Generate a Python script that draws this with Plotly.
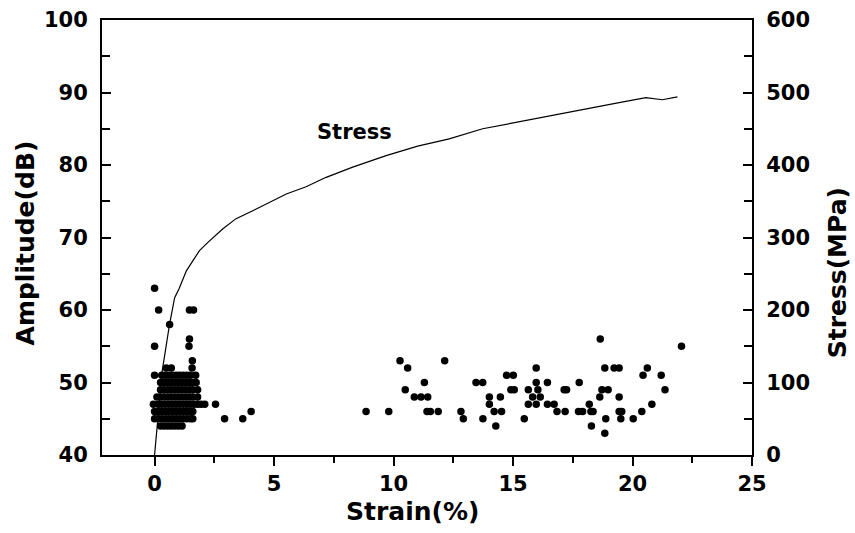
import plotly.graph_objects as go

# ---- Stress-strain curve (right axis) ----
stress_strain = [0.0, 0.07, 0.32, 0.63, 0.84, 1.02, 1.33, 1.88, 2.22, 2.86, 3.41, 4.11,
                 5.51, 6.34, 7.18, 8.29, 9.69, 11.01, 12.33, 13.73, 15.12, 16.51, 17.91,
                 19.44, 20.56, 21.25, 21.88]
stress_mpa = [0, 24, 116, 181, 217, 229, 254, 282, 293, 312, 326, 337,
              360, 370, 383, 397, 413, 426, 436, 450, 459, 467, 476,
              486, 493, 490, 494]

# ---- Acoustic emission hits (left axis) ----
ae_strain = [
    0.0,
    0.17, 1.46, 1.63,
    0.63,
    1.46,
    0.0, 1.44,
    1.58,
    0.49, 0.70, 1.57,
    0.0, 0.3, 0.45, 0.6, 0.75, 0.9, 1.05, 1.2, 1.35, 1.5, 1.72,
    0.25, 0.4, 0.55, 0.7, 0.85, 1.0, 1.15, 1.3, 1.45, 1.6, 1.74,
    0.25, 0.4, 0.55, 0.7, 0.85, 1.0, 1.15, 1.3, 1.45, 1.6, 1.8,
    0.1, 0.25, 0.4, 0.55, 0.7, 0.85, 1.0, 1.15, 1.3, 1.45, 1.6, 1.8,
    -0.05, 0.15, 0.3, 0.45, 0.6, 0.75, 0.9, 1.05, 1.2, 1.35, 1.5, 1.65, 1.8, 1.95, 2.1, 2.55,
    0.0, 0.15, 0.3, 0.45, 0.6, 0.75, 0.9, 1.05, 1.2, 1.35, 1.5, 1.6, 4.04,
    0.0, 0.15, 0.3, 0.45, 0.6, 0.75, 0.9, 1.05, 1.2, 1.35, 1.5, 1.6, 2.93, 3.69,
    0.25, 0.4, 0.55, 0.7, 0.85, 1.0, 1.15,
    # later hits
    10.27, 12.14,
    10.59, 15.97, 18.84, 19.23, 19.44, 20.62,
    14.73, 15.01, 20.44, 21.20,
    11.29, 13.45, 13.73, 15.97, 16.44, 17.77,
    10.49, 14.91, 15.05, 15.64, 16.04, 17.14, 17.24, 18.72, 18.98, 21.36,
    10.87, 11.15, 11.43, 14.01, 14.47, 15.82, 16.14, 18.63, 19.44,
    14.01, 15.64, 15.97, 16.44, 16.72, 18.19, 20.81,
    8.85, 9.80, 11.40, 11.54, 11.87, 12.82, 14.21, 14.52, 16.84, 17.18, 17.74, 17.91,
    18.26, 18.35, 19.44, 19.55, 20.39,
    12.92, 13.74, 15.47, 18.88, 19.51, 20.03,
    14.28, 18.28,
    18.84,
    18.65,
    22.05,
]
ae_amp = (
    [63]
    + [60] * 3
    + [58]
    + [56]
    + [55] * 2
    + [53]
    + [52] * 3
    + [51] * 11
    + [50] * 11
    + [49] * 11
    + [48] * 12
    + [47] * 16
    + [46] * 13
    + [45] * 14
    + [44] * 7
    + [53] * 2
    + [52] * 6
    + [51] * 4
    + [50] * 6
    + [49] * 10
    + [48] * 9
    + [47] * 7
    + [46] * 17
    + [45] * 6
    + [44] * 2
    + [43]
    + [56]
    + [55]
)

x_ticks = [0, 5, 10, 15, 20, 25]
amp_ticks = [40, 50, 60, 70, 80, 90, 100]
stress_ticks = [0, 100, 200, 300, 400, 500, 600]

FONT = "DejaVu Sans, Arial, sans-serif"
TICK_SIZE = 21
TITLE_SIZE = 25

fig = go.Figure()
fig.add_trace(go.Scatter(
    x=ae_strain, y=ae_amp, mode="markers",
    marker=dict(color="black", size=7.5, line=dict(width=0)),
    showlegend=False, yaxis="y",
))
fig.add_trace(go.Scatter(
    x=stress_strain, y=stress_mpa, mode="lines",
    line=dict(color="black", width=1.2, shape="linear"),
    showlegend=False, yaxis="y2",
))

title_font = dict(family=FONT, size=TITLE_SIZE, color="black", weight="bold")
fig.add_annotation(
    x=8.36, y=84.5, xref="x", yref="y", text="Stress", showarrow=False,
    font=dict(family=FONT, size=21, color="black", weight="bold"),
)
fig.add_annotation(
    x=0.478, y=-0.131, xref="paper", yref="paper", text="Strain(%)", showarrow=False,
    xanchor="center", yanchor="middle", font=title_font,
)
fig.add_annotation(
    x=-0.118, y=0.487, xref="paper", yref="paper", text="Amplitude(dB)", showarrow=False,
    xanchor="center", yanchor="middle", textangle=-90, font=title_font,
)
fig.add_annotation(
    x=1.131, y=0.418, xref="paper", yref="paper", text="Stress(MPa)", showarrow=False,
    xanchor="center", yanchor="middle", textangle=-90, font=title_font,
)

fig.update_layout(
    width=855, height=533,
    margin=dict(l=102, r=103, t=20, b=78, autoexpand=False),
    paper_bgcolor="white", plot_bgcolor="white",
    font=dict(family=FONT, color="black"),
    xaxis=dict(
        range=[-2.2, 25], tickvals=x_ticks, ticktext=[str(v) for v in x_ticks],
        ticks="outside", ticklen=9, tickwidth=2, tickcolor="black",
        minor=dict(ticks="outside", dtick=2.5, tick0=0, ticklen=6, tickwidth=2, tickcolor="black"),
        showline=True, linecolor="black", linewidth=2, mirror=True,
        showgrid=False, zeroline=False, automargin=False,
        tickfont=dict(family=FONT, size=TICK_SIZE, weight="bold"),
        ticklabelstandoff=0,
    ),
    yaxis=dict(
        range=[40, 100], tickvals=amp_ticks,
        ticks="inside", ticklen=9, tickwidth=2, tickcolor="black",
        minor=dict(ticks="inside", dtick=5, tick0=40, ticklen=8, tickwidth=2, tickcolor="black"),
        showline=True, linecolor="black", linewidth=2,
        showgrid=False, zeroline=False, automargin=False,
        tickfont=dict(family=FONT, size=TICK_SIZE, weight="bold"),
        ticklabelstandoff=8,
    ),
    yaxis2=dict(
        range=[0, 600], tickvals=stress_ticks, overlaying="y", side="right",
        ticks="inside", ticklen=9, tickwidth=2, tickcolor="black",
        minor=dict(ticks="inside", dtick=50, tick0=0, ticklen=8, tickwidth=2, tickcolor="black"),
        showline=True, linecolor="black", linewidth=2,
        showgrid=False, zeroline=False, automargin=False,
        tickfont=dict(family=FONT, size=TICK_SIZE, weight="bold"),
        ticklabelstandoff=8,
    ),
)

fig.write_html(
    "out.html",
    config={"displayModeBar": False, "staticPlot": True},
    post_script="document.body.style.margin='0';document.body.style.padding='0';",
)
